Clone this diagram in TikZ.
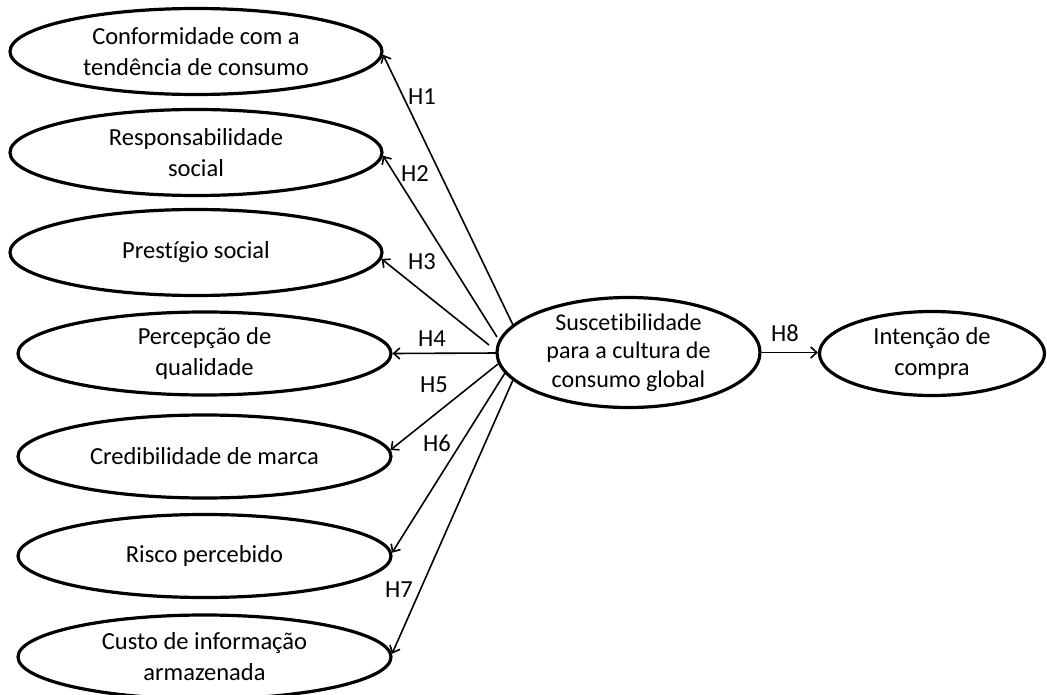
\documentclass[tikz,border=0pt]{standalone}
\usepackage{fontspec}
\setmainfont[Ligatures=NoCommon]{Carlito}
\usetikzlibrary{shapes.geometric,arrows.meta}
\tikzset{
  oval/.style={draw, ellipse, line width=3.2pt, inner sep=0pt, align=center,
    font=\fontsize{24.5}{31}\selectfont},
  bigoval/.style={oval, minimum width=372pt, minimum height=86pt},
  lab/.style={font=\fontsize{24.5}{28}\selectfont, inner sep=0pt},
  arr/.style={line width=1.6pt, -{Straight Barb[length=6pt,width=11pt]}},
}
\begin{document}
\begin{tikzpicture}[x=1pt,y=-1pt]
\useasboundingbox (0,0) rectangle (1047,695);
% outer ellipses
\node[bigoval] (e1) at (196,51.5) {Conformidade com a\\tendência de consumo};
\node[bigoval] (e2) at (196,152.5) {Responsabilidade\\social};
\node[bigoval] (e3) at (196,252.5) {Prestígio social};
\node[bigoval, minimum width=373pt, minimum height=83pt] (e4) at (204.5,353.5) {Percepção de\\qualidade};
\node[bigoval, minimum width=373pt, minimum height=83pt] (e5) at (204.5,456.5) {Credibilidade de marca};
\node[bigoval, minimum width=373pt, minimum height=83pt] (e6) at (204.5,556) {Risco percebido};
\node[bigoval, minimum width=373pt, minimum height=84pt] (e7) at (204.5,657) {Custo de informação\\armazenada};
% central and right ellipses
\node[oval, minimum width=263pt, minimum height=95pt, font=\fontsize{24}{28.5}\selectfont] (c) at (628.5,352.5) {Suscetibilidade\\para a cultura de\\consumo global};
\node[oval, minimum width=225pt, minimum height=84pt] (r) at (932,353.5) {Intenção de\\compra};
% start points of the arrows
\coordinate (s1) at (513,325);
\coordinate (s2) at (497,337);
\coordinate (s3) at (489,345);
\coordinate (s4) at (498,353);
\coordinate (s5) at (498,364);
\coordinate (s6) at (505,373);
\coordinate (s7) at (513,380);
\draw[arr] (s1) -- (e1.-1.7);
\draw[arr] (s2) -- (e2.-1.7);
\draw[arr] (s3) -- (e3.-2);
\draw[arr] (s4) -- (e4.east);
\draw[arr] (s5) -- (e5.2);
\draw[arr] (s6) -- (e6.1.4);
\draw[arr] (s7) -- (e7.1.4);
\draw[arr] (c.east) -- (c.east -| r.west);
% labels
\node[lab] (h1) at (422,97) {H1};
\node[lab] (h2) at (415,174) {H2};
\node[lab] (h3) at (422,262) {H3};
\node[lab] (h4) at (432,339) {H4};
\node[lab] (h5) at (434,385) {H5};
\node[lab] (h6) at (437,443) {H6};
\node[lab] (h7) at (399,590) {H7};
\node[lab] (h8) at (785,333) {H8};
\end{tikzpicture}
\end{document}
